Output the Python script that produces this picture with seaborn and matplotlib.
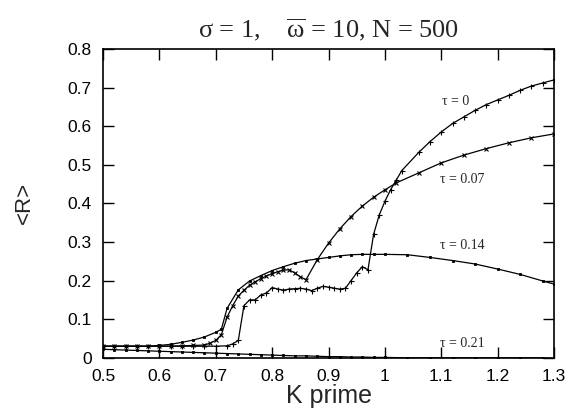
import numpy as np
import pandas as pd
import seaborn as sns
import matplotlib
matplotlib.use("Agg")
import matplotlib.pyplot as plt

# ---- data ----
K0 = [0.50,0.52,0.54,0.56,0.58,0.60,0.62,0.64,0.66,0.68,0.70,0.72,0.73,0.74,0.75,0.76,0.77,0.78,0.79,
      0.80,0.81,0.82,0.83,0.84,0.85,0.86,0.87,0.88,0.89,0.90,0.91,0.92,0.93,0.94,0.95,0.96,0.97,0.98,
      0.99,1.00,1.01,1.02,1.03,1.06,1.08,1.10,1.12,1.14,1.16,1.18,1.20,1.22,1.24,1.26,1.28,1.30]
R0 = [0.030,0.030,0.030,0.030,0.030,0.030,0.030,0.030,0.030,0.030,0.030,0.031,0.036,0.045,0.135,0.150,
      0.150,0.163,0.168,0.182,0.178,0.175,0.178,0.179,0.180,0.178,0.174,0.180,0.185,0.183,0.180,0.178,
      0.180,0.200,0.220,0.236,0.228,0.320,0.370,0.405,0.435,0.460,0.485,0.532,0.560,0.585,0.607,0.624,
      0.641,0.656,0.668,0.680,0.693,0.704,0.712,0.720]

K07 = [0.50,0.52,0.54,0.56,0.58,0.60,0.62,0.64,0.66,0.68,0.69,0.70,0.71,0.72,0.73,0.74,0.75,0.76,0.77,
       0.78,0.79,0.80,0.81,0.82,0.83,0.84,0.85,0.86,0.88,0.90,0.92,0.94,0.96,0.98,1.00,1.02,
       1.06,1.10,1.14,1.18,1.22,1.26,1.30]
R07 = [0.030,0.030,0.030,0.030,0.030,0.030,0.030,0.031,0.032,0.033,0.038,0.045,0.060,0.105,0.135,0.160,
       0.175,0.188,0.197,0.205,0.212,0.218,0.223,0.227,0.228,0.220,0.210,0.202,0.254,0.297,0.334,0.366,
       0.393,0.416,0.435,0.453,0.479,0.505,0.525,0.542,0.557,0.570,0.580]

K14 = [0.50,0.52,0.54,0.56,0.58,0.60,0.62,0.64,0.66,0.68,0.70,0.71,0.72,0.74,0.76,0.78,0.80,0.82,0.84,
       0.86,0.88,0.90,0.92,0.94,0.96,0.98,1.00,1.04,1.08,1.12,1.16,1.20,1.24,1.28,1.30]
R14 = [0.030,0.030,0.030,0.030,0.030,0.032,0.035,0.040,0.046,0.054,0.066,0.074,0.128,0.176,0.199,0.213,
       0.226,0.236,0.245,0.252,0.256,0.260,0.264,0.267,0.268,0.268,0.268,0.267,0.260,0.252,0.243,0.230,
       0.216,0.199,0.191]

K21 = [0.50,0.52,0.54,0.56,0.58,0.60,0.62,0.64,0.66,0.68,0.70,0.72,0.74,0.76,0.78,0.80,0.82,0.84,0.86,
       0.88,0.90,0.92,0.94,0.96,0.98,1.00,1.04,1.08,1.12,1.16,1.20,1.24,1.28]
R21 = [0.022,0.021,0.020,0.019,0.018,0.017,0.016,0.015,0.014,0.013,0.012,0.011,0.010,0.009,0.008,0.007,
       0.006,0.005,0.005,0.004,0.003,0.003,0.002,0.002,0.001,0.001,0.0,0.0,0.0,0.0,0.0,0.0,0.0]

taus = ["τ = 0", "τ = 0.07", "τ = 0.14", "τ = 0.21"]
label_pos = [(1.125, 0.663), (1.137, 0.462), (1.137, 0.291), (1.137, 0.037)]

x_ticks = [0.5, 0.6, 0.7, 0.8, 0.9, 1.0, 1.1, 1.2, 1.3]
x_ticklabels = ["0.5", "0.6", "0.7", "0.8", "0.9", "1", "1.1", "1.2", "1.3"]
y_ticks = [0, 0.1, 0.2, 0.3, 0.4, 0.5, 0.6, 0.7, 0.8]
y_ticklabels = ["0", "0.1", "0.2", "0.3", "0.4", "0.5", "0.6", "0.7", "0.8"]

sns.set_theme(style="ticks")
plt.rcParams['font.family'] = ['Liberation Sans', 'DejaVu Sans']
plt.rcParams['mathtext.fontset'] = 'custom'
plt.rcParams['mathtext.rm'] = 'Liberation Serif'
plt.rcParams['mathtext.it'] = 'Liberation Serif:italic'

fig = plt.figure(figsize=(5.66, 4.15), dpi=100)
ax = fig.add_axes([103/566, 1-357.8/415, 451/566, 308.8/415])

series = [(K0, R0, '+', 3.6, 0.8), (K07, R07, 'x', 2.4, 0.8), (K14, R14, 's', 2.0, 0.6), (K21, R21, 's', 2.0, 0.6)]
for (k, r, m, ms, mew), t in zip(series, taus):
    df = pd.DataFrame({"K": k, "R": r})
    sns.lineplot(data=df, x="K", y="R", ax=ax, color="black", lw=0.9, sort=False,
                 estimator=None, marker=m, markersize=ms, markeredgewidth=mew,
                 markeredgecolor="black", markerfacecolor="black")

for t, (x, y) in zip(taus, label_pos):
    ax.text(x, y, t, ha="center", va="center", fontsize=10, family="Liberation Serif")

ax.set_xlim(0.5, 1.3)
ax.set_ylim(0, 0.8)
ax.set_xticks(x_ticks)
ax.set_xticklabels(x_ticklabels)
ax.set_yticks(y_ticks)
ax.set_yticklabels(y_ticklabels)
ax.tick_params(direction="in", length=8, width=1, top=True, right=True, labelsize=12.5, colors="black", pad=8)
for s in ax.spines.values():
    s.set_visible(True)
    s.set_linewidth(1.2)
    s.set_color("black")

ax.set_xlabel("K prime", fontsize=18, labelpad=0)
ax.set_ylabel("<R>", fontsize=16)
ax.yaxis.set_label_coords(-0.151, 0.5)
ax.set_title("σ = 1,    $\\overline{\\mathrm{\\omega}}$ = 10, N = 500", fontsize=19, pad=8,
             family="Liberation Serif")

fig.savefig("out.png", dpi=100, facecolor="white")
